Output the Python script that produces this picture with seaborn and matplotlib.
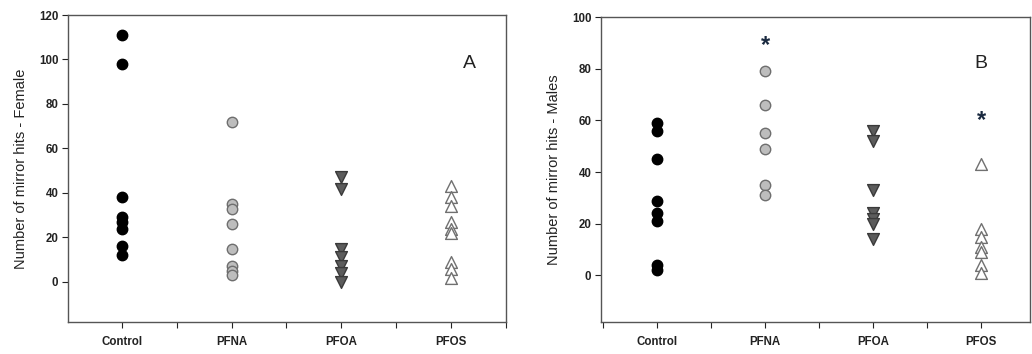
import matplotlib
matplotlib.use("Agg")
import matplotlib.pyplot as plt
import seaborn as sns
import pandas as pd
from matplotlib.ticker import FixedLocator

sns.set_style("white")
plt.rcParams['font.family'] = ['Liberation Sans', 'DejaVu Sans']

categories = ["Control", "PFNA", "PFOA", "PFOS"]

female_control = [111, 98, 38, 29, 27, 24, 16, 12]
female_pfna = [72, 35, 33, 26, 15, 7, 5, 3]
female_pfoa = [47, 42, 15, 11, 7, 4, 0]
female_pfos = [43, 38, 34, 27, 24, 22, 9, 6, 2]

male_control = [59, 56, 45, 29, 24, 21, 4, 2]
male_pfna = [79, 66, 55, 49, 35, 31]
male_pfoa = [56, 52, 33, 24, 22, 20, 14]
male_pfos = [43, 18, 15, 11, 9, 4, 1]

female_ylabel = "Number of mirror hits - Female"
male_ylabel = "Number of mirror hits - Males"
female_yticks = [0, 20, 40, 60, 80, 100, 120]
male_yticks = [0, 20, 40, 60, 80, 100]
panel_letters = ["A", "B"]
male_signif = ["PFNA", "PFOS"]
male_signif_y = [89, 60]

styles = {
    "Control": dict(marker="o", color="black", edgecolor="black", size=7.5),
    "PFNA": dict(marker="o", color="#bdbdbd", edgecolor="#6e6e6e", size=7.5),
    "PFOA": dict(marker="v", color="#5c5c5c", edgecolor="#3a3a3a", size=8.5),
    "PFOS": dict(marker="^", color="white", edgecolor="#707070", size=8.5),
}


def long_df(groups):
    rows = []
    for cat, vals in zip(categories, groups):
        for v in vals:
            rows.append({"group": cat, "hits": v})
    return pd.DataFrame(rows)


fig = plt.figure(figsize=(10.32, 3.54), dpi=100)
axA = fig.add_axes([68 / 1032, 32 / 354, 438 / 1032, 307 / 354])
axB = fig.add_axes([601 / 1032, 32 / 354, 429 / 1032, 305 / 354])

panels = [
    (axA, long_df([female_control, female_pfna, female_pfoa, female_pfos]),
     female_ylabel, female_yticks, (-18, 120), (-0.49, 3.5)),
    (axB, long_df([male_control, male_pfna, male_pfoa, male_pfos]),
     male_ylabel, male_yticks, (-18, 100), (-0.52, 3.45)),
]

for ax, df, ylabel, yticks, ylim, xlim in panels:
    for cat in categories:
        st = styles[cat]
        sub = df[df["group"] == cat]
        sns.stripplot(data=sub, x="group", y="hits", order=categories,
                      jitter=False, ax=ax, marker=st["marker"], color=st["color"],
                      edgecolor=st["edgecolor"], linewidth=1.0, size=st["size"],
                      zorder=3)
    ax.set_ylim(*ylim)
    ax.set_xlim(*xlim)
    ax.set_yticks(yticks)
    ax.set_xticks(range(len(categories)))
    ax.set_xticklabels(categories)
    ax.xaxis.set_minor_locator(FixedLocator([-0.5, 0.5, 1.5, 2.5, 3.5]))
    ax.set_xlabel("")
    ax.set_ylabel(ylabel, fontsize=10.5, labelpad=8, color="#222222")
    ax.tick_params(axis="both", which="major", direction="out", length=4,
                   width=0.8, labelsize=8.3, colors="#222222", pad=3,
                   bottom=True, left=True)
    ax.tick_params(axis="x", which="major", pad=6)
    ax.tick_params(axis="x", which="minor", direction="out", length=4,
                   width=0.8, bottom=True)
    for sp in ax.spines.values():
        sp.set_visible(True)
        sp.set_color("#555555")
        sp.set_linewidth(1.0)
    for lab in ax.get_xticklabels() + ax.get_yticklabels():
        lab.set_fontweight("bold")
        lab.set_color("#222222")

axA.text(3.17, 98, panel_letters[0], fontsize=14, color="#222222",
         ha="center", va="center")
axB.text(3.0, 82, panel_letters[1], fontsize=14, color="#222222",
         ha="center", va="center")
for cat, yv in zip(male_signif, male_signif_y):
    axB.text(categories.index(cat), yv, "*", fontsize=17, color="#1a2a40",
             ha="center", va="center", fontweight="bold")

fig.savefig("out.png", dpi=100)
